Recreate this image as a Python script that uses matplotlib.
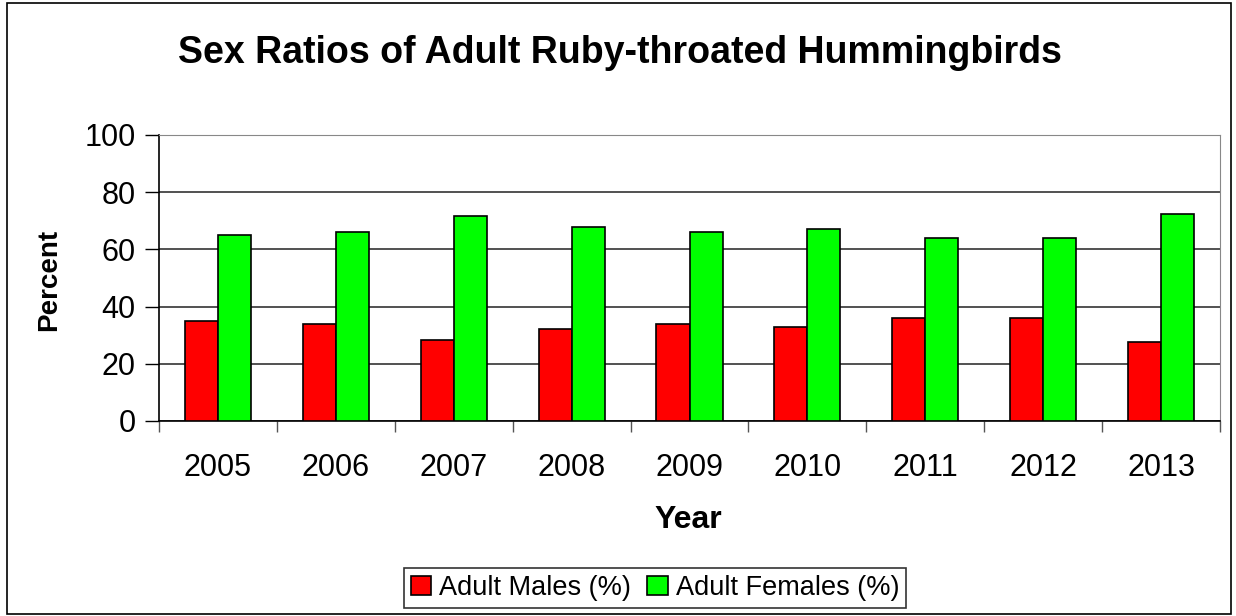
import numpy as np
import matplotlib.pyplot as plt
from matplotlib.patches import Rectangle

plt.rcParams['font.family'] = ['Liberation Sans', 'DejaVu Sans']

years = ['2005', '2006', '2007', '2008', '2009', '2010', '2011', '2012', '2013']
males = [35, 34, 28.2, 32, 34, 33, 36, 36, 27.7]
females = [65, 66, 71.8, 68, 66, 67, 64, 64, 72.3]

W, H = 1236, 616
fig = plt.figure(figsize=(W / 100, H / 100), dpi=100)

# outer chart border
fig.patches.append(Rectangle((7 / W, 2 / H), 1224 / W, 611 / H, transform=fig.transFigure,
                             fill=False, edgecolor='black', linewidth=1.2))

ax = fig.add_axes([159 / W, 195 / H, 1061 / W, 286 / H])
x = np.arange(len(years))
bw = 0.28
ax.bar(x - bw / 2, males, bw, color='#FF0000', edgecolor='black', linewidth=1.2,
       label='Adult Males (%)', zorder=3)
ax.bar(x + bw / 2, females, bw, color='#00FF00', edgecolor='black', linewidth=1.2,
       label='Adult Females (%)', zorder=3)

ax.set_xlim(-0.5, len(years) - 0.5)
ax.set_ylim(0, 100)
ax.set_yticks(range(0, 101, 20))
ax.yaxis.grid(True, color='#333333', linewidth=1.2, zorder=0)
ax.tick_params(axis='y', labelsize=22, length=10, width=1, pad=7)

ax.set_xticks(x)
ax.set_xticklabels(years)
ax.set_xticks(np.arange(-0.5, len(years)), minor=True)
ax.tick_params(axis='x', which='major', length=0, labelsize=22, pad=23)
ax.tick_params(axis='x', which='minor', length=8, width=1, color='#555555')

for s in ['left', 'bottom']:
    ax.spines[s].set_color('black')
    ax.spines[s].set_linewidth(1.2)
ax.spines['right'].set_color('#888888')
ax.spines['top'].set_color('#888888')

fig.text(620 / W, 1 - 53 / H, 'Sex Ratios of Adult Ruby-throated Hummingbirds',
         ha='center', va='center', fontsize=27, fontweight='bold')
fig.text(49 / W, 1 - 280 / H, 'Percent', rotation=90, ha='center', va='center',
         fontsize=20, fontweight='bold')
fig.text(688 / W, 1 - 520 / H, 'Year', ha='center', va='center',
         fontsize=23, fontweight='bold')

leg = fig.legend(loc='center', bbox_to_anchor=(655 / W, 1 - 588 / H), ncol=2,
                 fontsize=19.5, frameon=True, fancybox=False, edgecolor='black',
                 handlelength=0.75, handleheight=0.75, handletextpad=0.3,
                 columnspacing=0.6, borderpad=0.25, borderaxespad=0)
leg.get_frame().set_linewidth(1.2)

fig.savefig('out.png', dpi=100)
